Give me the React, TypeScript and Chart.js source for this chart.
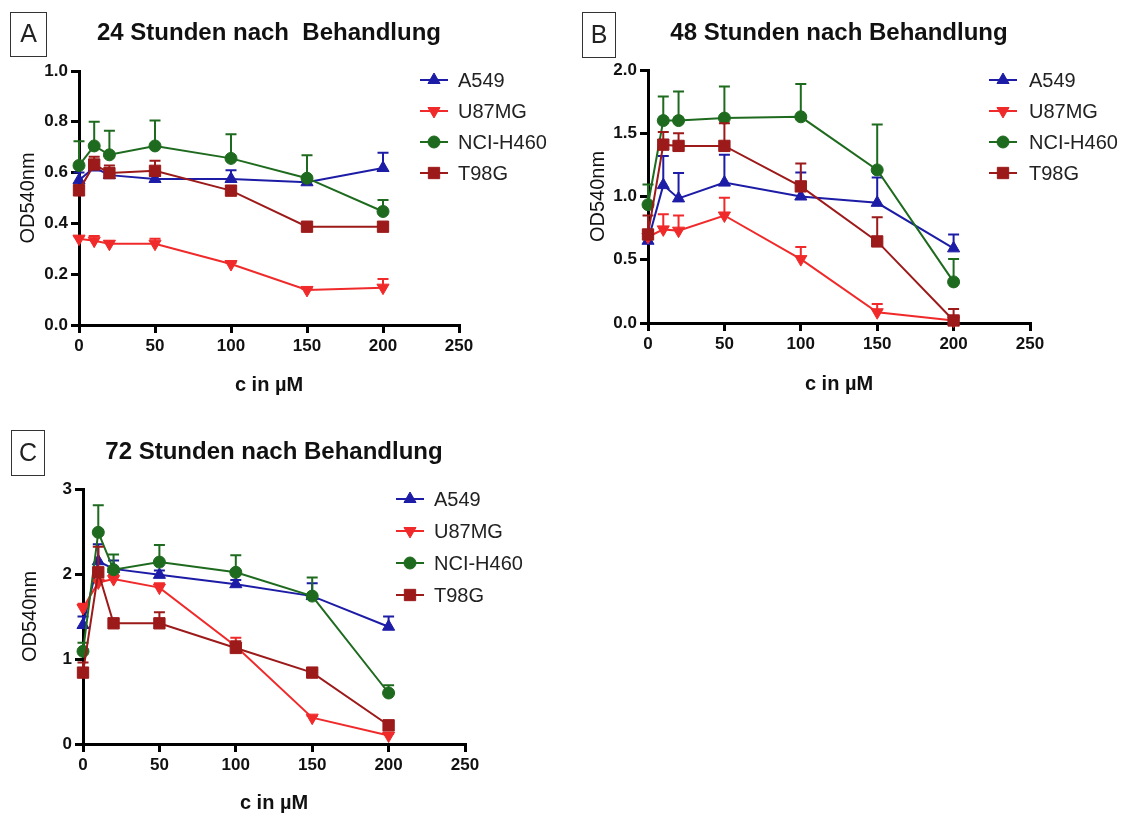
import React, { useEffect, useRef } from "react";
import { Chart, registerables } from "chart.js";

Chart.register(...registerables);

// ---------- data ----------
const concentrations = [0, 10, 20, 50, 100, 150, 200];
const seriesNames = ["A549", "U87MG", "NCI-H460", "T98G"];
const xTitle = "c in µM";
const yTitle = "OD540nm";

// 24 h
const h24_A549 = [0.57, 0.62, 0.59, 0.575, 0.575, 0.562, 0.618];
const h24_A549_err = [0.03, 0.03, 0.02, 0.012, 0.034, 0.01, 0.06];
const h24_U87MG = [0.34, 0.332, 0.32, 0.32, 0.24, 0.138, 0.147];
const h24_U87MG_err = [0.008, 0.018, 0.01, 0.02, 0.005, 0.004, 0.034];
const h24_NCIH460 = [0.628, 0.705, 0.67, 0.705, 0.656, 0.578, 0.447];
const h24_NCIH460_err = [0.095, 0.095, 0.095, 0.1, 0.095, 0.09, 0.045];
const h24_T98G = [0.53, 0.632, 0.598, 0.607, 0.529, 0.387, 0.387];
const h24_T98G_err = [0.02, 0.03, 0.03, 0.04, 0.01, 0.005, 0.005];

// 48 h
const h48_A549 = [0.65, 1.09, 0.985, 1.11, 1.0, 0.95, 0.59];
const h48_A549_err = [0.08, 0.23, 0.2, 0.22, 0.19, 0.2, 0.11];
const h48_U87MG = [0.68, 0.74, 0.73, 0.85, 0.505, 0.085, 0.02];
const h48_U87MG_err = [0.05, 0.12, 0.12, 0.14, 0.095, 0.065, 0.03];
const h48_NCIH460 = [0.935, 1.6, 1.6, 1.62, 1.63, 1.21, 0.325];
const h48_NCIH460_err = [0.16, 0.19, 0.23, 0.25, 0.26, 0.36, 0.18];
const h48_T98G = [0.7, 1.41, 1.4, 1.4, 1.08, 0.645, 0.02];
const h48_T98G_err = [0.15, 0.1, 0.1, 0.18, 0.18, 0.19, 0.09];

// 72 h
const h72_A549 = [1.4, 2.15, 2.06, 1.99, 1.88, 1.74, 1.38];
const h72_A549_err = [0.1, 0.2, 0.1, 0.05, 0.05, 0.15, 0.12];
const h72_U87MG = [1.6, 1.9, 1.94, 1.84, 1.15, 0.31, 0.1];
const h72_U87MG_err = [0.05, 0.1, 0.05, 0.05, 0.1, 0.02, 0.02];
const h72_NCIH460 = [1.09, 2.49, 2.05, 2.14, 2.02, 1.74, 0.6];
const h72_NCIH460_err = [0.1, 0.32, 0.18, 0.2, 0.2, 0.22, 0.09];
const h72_T98G = [0.84, 2.02, 1.42, 1.42, 1.13, 0.84, 0.22];
const h72_T98G_err = [0.12, 0.3, 0.05, 0.13, 0.08, 0.03, 0.03];

const xTicksMax = 250;
const xTickStep = 50;

// ---------- styles ----------
const FONT = '"Liberation Sans", Arial, Helvetica, sans-serif';
const seriesStyles = [
  { color: "#1c1ca6", pointStyle: "triangle", rotation: 0, radius: 7 },
  { color: "#f02a2a", pointStyle: "triangle", rotation: 180, radius: 7 },
  { color: "#1e6a1e", pointStyle: "circle", rotation: 0, radius: 6 },
  { color: "#9c1a1a", pointStyle: "rect", rotation: 0, radius: 8 },
];

function drawMarker(ctx: CanvasRenderingContext2D, style: string, rotation: number, r: number, x: number, y: number) {
  ctx.beginPath();
  if (style === "circle") {
    ctx.arc(x, y, r, 0, Math.PI * 2);
  } else if (style === "rect") {
    const s = r * Math.SQRT1_2;
    ctx.rect(x - s, y - s, 2 * s, 2 * s);
  } else {
    let rad = (rotation * Math.PI) / 180;
    ctx.moveTo(x + Math.sin(rad) * r, y - Math.cos(rad) * r);
    rad += (2 * Math.PI) / 3;
    ctx.lineTo(x + Math.sin(rad) * r, y - Math.cos(rad) * r);
    rad += (2 * Math.PI) / 3;
    ctx.lineTo(x + Math.sin(rad) * r, y - Math.cos(rad) * r);
    ctx.closePath();
  }
  ctx.fill();
  ctx.stroke();
}

const errorBarPlugin = {
  id: "errorBars",
  beforeDatasetDraw(chart: any, args: any) {
    const ds = chart.data.datasets[args.index];
    const errs: number[] | undefined = ds.errors;
    if (!errs) return;
    const ctx = chart.ctx;
    const xs = chart.scales.x;
    const ys = chart.scales.y;
    ctx.save();
    ctx.strokeStyle = ds.borderColor;
    ctx.lineWidth = 2;
    ds.data.forEach((p: any, i: number) => {
      const e = errs[i];
      if (!e) return;
      const px = xs.getPixelForValue(p.x);
      const y0 = ys.getPixelForValue(p.y);
      const y1 = ys.getPixelForValue(p.y + e);
      ctx.beginPath();
      ctx.moveTo(px, y0);
      ctx.lineTo(px, y1);
      ctx.moveTo(px - 5.5, y1);
      ctx.lineTo(px + 5.5, y1);
      ctx.stroke();
    });
    ctx.restore();
  },
};

const decorPlugin = {
  id: "decor",
  afterDraw(chart: any, _args: any, opts: any) {
    const { ctx, chartArea } = chart;
    ctx.save();
    // panel title
    ctx.fillStyle = "#111";
    ctx.font = `bold 24px ${FONT}`;
    ctx.textAlign = "center";
    ctx.textBaseline = "middle";
    ctx.fillText(opts.title, (chartArea.left + chartArea.right) / 2, opts.titleY);
    // letter box
    const [bx, by, bw, bh] = opts.box;
    ctx.strokeStyle = "#333";
    ctx.lineWidth = 1;
    ctx.strokeRect(bx + 0.5, by + 0.5, bw, bh);
    ctx.font = `25px ${FONT}`;
    ctx.fillStyle = "#222";
    ctx.fillText(opts.letter, bx + bw / 2 + 0.5, by + bh / 2 + 1.5);
    // legend
    chart.data.datasets.forEach((ds: any, i: number) => {
      const st = seriesStyles[i];
      const y = opts.legendY + i * opts.legendGap;
      const x0 = opts.legendX;
      ctx.strokeStyle = st.color;
      ctx.fillStyle = st.color;
      ctx.lineWidth = 2;
      ctx.beginPath();
      ctx.moveTo(x0, y);
      ctx.lineTo(x0 + 28, y);
      ctx.stroke();
      ctx.lineWidth = 1;
      drawMarker(ctx, st.pointStyle, st.rotation, st.radius, x0 + 14, y);
      ctx.fillStyle = "#222";
      ctx.font = `20px ${FONT}`;
      ctx.textAlign = "left";
      ctx.textBaseline = "middle";
      ctx.fillText(ds.label, opts.legendTextX, y + 1);
    });
    ctx.restore();
  },
};

type PanelCfg = {
  left: number;
  top: number;
  width: number;
  height: number;
  pad: { left: number; right: number; top: number; bottom: number };
  yWidth: number;
  xHeight: number;
  yMax: number;
  yStep: number;
  yDecimals: number;
  series: number[][];
  errors: number[][];
  decor: any;
};

function Panel({ cfg }: { cfg: PanelCfg }) {
  const ref = useRef<HTMLCanvasElement | null>(null);
  useEffect(() => {
    if (!ref.current) return;
    const tickFont = { family: FONT, size: 17, weight: "bold" as const };
    const axisGrid = {
      display: true,
      drawOnChartArea: false,
      drawTicks: true,
      tickLength: 8,
      lineWidth: 3,
      tickWidth: 3,
      tickColor: "#000",
      color: "#000",
    };
    const chart = new Chart(ref.current, {
      type: "line",
      data: {
        datasets: cfg.series.map((vals, si) => ({
          label: seriesNames[si],
          data: concentrations.map((x, i) => ({ x, y: vals[i] })),
          errors: cfg.errors[si],
          borderColor: seriesStyles[si].color,
          backgroundColor: seriesStyles[si].color,
          pointBackgroundColor: seriesStyles[si].color,
          pointBorderColor: seriesStyles[si].color,
          pointBorderWidth: 1,
          borderWidth: 2,
          pointStyle: seriesStyles[si].pointStyle as any,
          pointRotation: seriesStyles[si].rotation,
          pointRadius: seriesStyles[si].radius,
          tension: 0,
          fill: false,
          clip: false as any,
          order: 3 - si,
        })) as any,
      },
      options: {
        animation: false,
        responsive: false,
        devicePixelRatio: 1,
        events: [],
        layout: { padding: cfg.pad },
        plugins: {
          legend: { display: false },
          title: { display: false },
          tooltip: { enabled: false },
          decor: cfg.decor,
        } as any,
        scales: {
          x: {
            type: "linear",
            min: 0,
            max: xTicksMax,
            afterFit: (s: any) => {
              s.height = cfg.xHeight;
            },
            ticks: {
              stepSize: xTickStep,
              font: tickFont,
              color: "#111",
              padding: 3,
              maxRotation: 0,
              autoSkip: false,
            },
            grid: axisGrid,
            border: { display: true, color: "#000", width: 3 },
            title: {
              display: true,
              text: xTitle,
              color: "#111",
              font: { family: FONT, size: 20, weight: "bold" },
              padding: 0,
            },
          },
          y: {
            type: "linear",
            min: 0,
            max: cfg.yMax,
            afterFit: (s: any) => {
              s.width = cfg.yWidth;
            },
            ticks: {
              stepSize: cfg.yStep,
              font: tickFont,
              color: "#111",
              padding: 3,
              callback: (v: any) => Number(v).toFixed(cfg.yDecimals),
            },
            grid: axisGrid,
            border: { display: true, color: "#000", width: 3 },
            title: {
              display: true,
              text: yTitle,
              color: "#111",
              font: { family: FONT, size: 20, weight: "normal" },
              padding: 0,
            },
          },
        },
      },
      plugins: [errorBarPlugin, decorPlugin],
    } as any);
    return () => chart.destroy();
  }, [cfg]);
  return (
    <canvas
      ref={ref}
      width={cfg.width}
      height={cfg.height}
      style={{
        position: "absolute",
        left: cfg.left,
        top: cfg.top,
        width: cfg.width,
        height: cfg.height,
        display: "block",
      }}
    />
  );
}

const panelA: PanelCfg = {
  left: 0,
  top: 0,
  width: 570,
  height: 410,
  pad: { left: 16, right: 111, top: 71, bottom: 13 },
  yWidth: 63,
  xHeight: 72,
  yMax: 1.0,
  yStep: 0.2,
  yDecimals: 1,
  series: [h24_A549, h24_U87MG, h24_NCIH460, h24_T98G],
  errors: [h24_A549_err, h24_U87MG_err, h24_NCIH460_err, h24_T98G_err],
  decor: {
    title: "24 Stunden nach  Behandlung",
    titleY: 33,
    letter: "A",
    box: [10, 12, 36, 44],
    legendX: 420,
    legendTextX: 458,
    legendY: 80,
    legendGap: 31,
  },
};

const panelB: PanelCfg = {
  left: 570,
  top: 0,
  width: 556,
  height: 410,
  pad: { left: 16, right: 96, top: 70, bottom: 14 },
  yWidth: 62,
  xHeight: 73,
  yMax: 2.0,
  yStep: 0.5,
  yDecimals: 1,
  series: [h48_A549, h48_U87MG, h48_NCIH460, h48_T98G],
  errors: [h48_A549_err, h48_U87MG_err, h48_NCIH460_err, h48_T98G_err],
  decor: {
    title: "48 Stunden nach Behandlung",
    titleY: 33,
    letter: "B",
    box: [12, 12, 33, 45],
    legendX: 419,
    legendTextX: 459,
    legendY: 80,
    legendGap: 31,
  },
};

const panelC: PanelCfg = {
  left: 0,
  top: 405,
  width: 570,
  height: 411,
  pad: { left: 18, right: 105, top: 84, bottom: 1 },
  yWidth: 65,
  xHeight: 71,
  yMax: 3,
  yStep: 1,
  yDecimals: 0,
  series: [h72_A549, h72_U87MG, h72_NCIH460, h72_T98G],
  errors: [h72_A549_err, h72_U87MG_err, h72_NCIH460_err, h72_T98G_err],
  decor: {
    title: "72 Stunden nach Behandlung",
    titleY: 47,
    letter: "C",
    box: [11, 25, 33, 45],
    legendX: 396,
    legendTextX: 434,
    legendY: 94,
    legendGap: 32,
  },
};

export default function App() {
  useEffect(() => {
    document.body.style.margin = "0";
    document.body.style.overflow = "hidden";
    document.body.style.background = "#fff";
  }, []);
  return (
    <div style={{ position: "absolute", left: 0, top: 0, width: 1126, height: 816, background: "#fff", overflow: "hidden" }}>
      <Panel cfg={panelA} />
      <Panel cfg={panelB} />
      <Panel cfg={panelC} />
    </div>
  );
}
